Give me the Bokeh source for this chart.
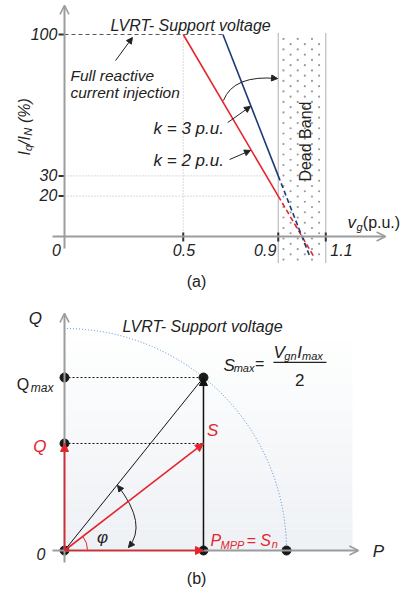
import math
import numpy as np
from bokeh.plotting import figure
from bokeh.layouts import column
from bokeh.models import Range1d, Arrow, NormalHead, OpenHead
from bokeh.core.properties import value
from bokeh.embed import file_html
from bokeh.resources import INLINE

# ---------------- data: panel (a) LVRT reactive current support ----------------
x_ticks = [0.5, 0.9, 1.1]
x_tick_labels = ["0.5", "0.9", "1.1"]
y_ticks = [100, 30, 20]
y_tick_labels = ["100", "30", "20"]
dead_band = [0.9, 1.1]

# k = 2 p.u. curve (solid part, then dashed continuation through the dead band)
k2_vg = [0.5, 0.9]
k2_iq = [100, 20]
k2_dash_vg = [0.9, 1.05]
k2_dash_iq = [20, -10]
# k = 3 p.u. curve
k3_vg = [0.667, 0.9]
k3_iq = [100, 30]
k3_dash_vg = [0.9, 1.035]
k3_dash_iq = [30, -10.5]

# ---------------- data: panel (b) PQ diagram ----------------
S_max = 1.0
P_mpp = 0.626
Q_max = 0.779
Q_inj = 0.482

FONT = value("Liberation Sans")
RED = "#e3262d"
NAVY = "#1b3b78"
AXIS = "#9c9c9c"
INK = "#222222"


def make_fig(h, xr, yr):
    f = figure(width=407, height=h, x_range=Range1d(*xr), y_range=Range1d(*yr),
               x_axis_type=None, y_axis_type=None, toolbar_location=None,
               output_backend="svg", min_border=0, outline_line_color=None,
               background_fill_color="white", border_fill_color="white")
    return f


def txt(f, x, y, s, size=16, color=INK, italic=True, align="left",
        baseline="alphabetic", angle=0.0):
    f.text(x=[x], y=[y], text=[s], text_font=FONT, text_font_size=f"{size}px",
           text_font_style="italic" if italic else "normal", text_color=color,
           text_align=align, text_baseline=baseline, angle=angle)


def arrow(f, x0, y0, x1, y1, color=INK, width=1.0, head=6, body=True):
    f.add_layout(Arrow(end=NormalHead(size=head, fill_color=color, line_color=color),
                       x_start=x0, y_start=y0, x_end=x1, y_end=y1,
                       line_color=color, line_width=width,
                       line_alpha=1.0 if body else 0.0))


def axis_arrow(f, x0, y0, x1, y1):
    f.add_layout(Arrow(end=OpenHead(size=9, line_color=AXIS, line_width=1.6),
                       x_start=x0, y_start=y0, x_end=x1, y_end=y1,
                       line_color=AXIS, line_width=2))


def curve_arrow(f, p0, c, p1, heads=("end",), color=INK):
    # quadratic bezier with arrow heads along its tangents
    f.quadratic(x0=[p0[0]], y0=[p0[1]], x1=[p1[0]], y1=[p1[1]], cx=[c[0]], cy=[c[1]],
                line_color=color, line_width=1)
    if "end" in heads:
        sx = p1[0] + 0.04 * (c[0] - p1[0])
        sy = p1[1] + 0.04 * (c[1] - p1[1])
        arrow(f, sx, sy, p1[0], p1[1], color=color, head=6, body=False)
    if "start" in heads:
        sx = p0[0] + 0.04 * (c[0] - p0[0])
        sy = p0[1] + 0.04 * (c[1] - p0[1])
        arrow(f, sx, sy, p0[0], p0[1], color=color, head=6, body=False)


# ============================ panel (a) ============================
pa = make_fig(298, (-0.2695, 1.4442), (-30.69, 116.83))

# dead band: staggered dot texture with dotted borders
band_bottom, band_top = -12.9, 100.5
rows = np.arange(band_bottom + 1.5, band_top - 1.0, 2.6)
dx, dy = [], []
for r, yv in enumerate(rows):
    shift = 0.0 if r % 2 == 0 else 0.03
    cols = np.arange(dead_band[0] + 0.022 + shift, dead_band[1] - 0.01, 0.06)
    dx.extend(cols)
    dy.extend([yv] * len(cols))
pa.scatter(x=dx, y=dy, size=2.2, color="#9a9a9a", line_color=None)
for xb in dead_band:
    pa.line([xb, xb], [band_bottom, band_top], line_color="#7a7a7a", line_width=1.2,
            line_dash="1 1")

# guide lines
pa.line([0, k3_vg[0]], [100, 100], line_color="#555555", line_width=1, line_dash="4 3")
pa.line([0.5, 0.5], [0, 100], line_color="#b5b5b5", line_width=1, line_dash="1 2")
for yv in (30, 20):
    pa.line([0, 0.9], [yv, yv], line_color="#b5b5b5", line_width=1, line_dash="1 2")

# axes
axis_arrow(pa, -0.0505, 0, 1.352, 0)
axis_arrow(pa, 0, -5.9, 0, 114.4)
for yv in y_ticks:
    pa.line([-0.025, 0], [yv, yv], line_color="#333333", line_width=2)
for xv in x_ticks:
    pa.line([xv, xv], [2.0, -2.5], line_color="#333333", line_width=2)

# characteristic lines
pa.line(k2_vg, k2_iq, line_color=RED, line_width=1.6)
pa.line(k2_dash_vg, k2_dash_iq, line_color=RED, line_width=1.6, line_dash="5 3")
pa.line(k3_vg, k3_iq, line_color=NAVY, line_width=1.6)
pa.line(k3_dash_vg, k3_dash_iq, line_color=NAVY, line_width=1.6, line_dash="5 3")

# tick labels
for yv, s in zip(y_ticks, y_tick_labels):
    txt(pa, -0.03, yv + 0.4, s, align="right", baseline="middle")
txt(pa, -0.034, -6.6, "0", align="center", baseline="middle")
for xv, s, xc in zip(x_ticks, x_tick_labels, [0.503, 0.845, 1.166]):
    txt(pa, xc, -6.6, s, align="center", baseline="middle")

# axis titles
txt(pa, 1.192, 6.9, "v", size=17)
txt(pa, 1.229, 4.6, "g", size=11)
txt(pa, 1.256, 6.9, "(p.u.)", size=16, italic=False)
yl = -0.168
txt(pa, yl, 40.1, "I", angle=math.pi / 2)
txt(pa, yl + 0.013, 42.3, "q", size=11, angle=math.pi / 2)
txt(pa, yl, 45.3, "/I", angle=math.pi / 2)
txt(pa, yl + 0.013, 49.9, "N", size=11, angle=math.pi / 2)
txt(pa, yl, 56.2, "(%)", angle=math.pi / 2)

# annotations
txt(pa, 0.194, 104.5, "LVRT- Support voltage")
txt(pa, 0.025, 79.7, "Full reactive", size=15.5)
txt(pa, 0.025, 71.3, "current injection", size=15.5)
arrow(pa, 0.215, 87.1, 0.286, 98.5, head=6)
txt(pa, 0.375, 53.5, "k = 3 p.u.", size=17, baseline="middle")
txt(pa, 0.375, 37.6, "k = 2 p.u.", size=17, baseline="middle")
arrow(pa, 0.687, 56.4, 0.783, 64.4, head=6)
arrow(pa, 0.695, 38.1, 0.783, 42.6, head=6)
curve_arrow(pa, (0.669, 67.3), (0.712, 80.2), (0.897, 78.2))
txt(pa, 1.015, 47, "Dead Band", size=16, italic=False, align="center",
    baseline="middle", angle=math.pi / 2)
txt(pa, 0.556, -22.3, "(a)", size=16, italic=False, align="center", baseline="middle")

# ============================ panel (b) ============================
pb = make_fig(297, (-0.2883, 1.545), (-0.2027, 1.135))

# soft vertical gradient behind the diagram
n_band = 30
top_q, bot_q = 0.982, 0.0
for i in range(n_band):
    t = i / (n_band - 1)
    c0 = (0xee, 0xf1, 0xf5)
    c1 = (0xff, 0xff, 0xff)
    col = "#%02x%02x%02x" % tuple(int(a + (b - a) * t) for a, b in zip(c0, c1))
    b0 = bot_q + (top_q - bot_q) * i / n_band
    b1 = bot_q + (top_q - bot_q) * (i + 1) / n_band
    pb.quad(left=[0], right=[1.297], bottom=[b0], top=[b1], fill_color=col, line_color=None)

# capability circle
pb.arc(x=[0], y=[0], radius=S_max, start_angle=0, end_angle=math.pi / 2,
       line_color="#4a8ad4", line_width=1, line_dash="1 2")

# axes
axis_arrow(pb, -0.054, 0, 1.324, 0)
axis_arrow(pb, 0, -0.054, 0, 1.068)

# projections
pb.line([0, P_mpp], [Q_max, Q_max], line_color="#111111", line_width=1, line_dash="2 2")
pb.line([0, P_mpp], [Q_inj, Q_inj], line_color="#111111", line_width=1, line_dash="2 2")

# vectors
pb.line([0, P_mpp], [0, Q_max], line_color="#111111", line_width=1)
arrow(pb, P_mpp, 0, P_mpp, Q_max, color="#111111", width=1.5, head=8)
arrow(pb, 0, 0, P_mpp, 0, color=RED, width=1.6, head=8)
arrow(pb, 0, 0, 0, Q_inj, color=RED, width=1.6, head=8)
arrow(pb, 0, 0, P_mpp, Q_inj, color=RED, width=1.6, head=8)

# angles
phi = math.atan2(Q_inj, P_mpp)
pb.arc(x=[0], y=[0], radius=0.104, start_angle=0, end_angle=phi, line_color=RED, line_width=1)
curve_arrow(pb, (0.239, 0.293), (0.376, 0.117), (0.288, 0.0135), heads=("start", "end"))

# points
pb.scatter(x=[0, 0, 0, P_mpp, P_mpp, S_max], y=[0, Q_inj, Q_max, Q_max, 0, 0],
           size=9, color="#1a1a1a")

# labels
txt(pb, -0.131, 1.045, "Q", size=17, align="center", baseline="middle")
txt(pb, 0.261, 1.009, "LVRT- Support voltage")
txt(pb, -0.215, 0.748, "Q", size=16, italic=False)
txt(pb, -0.152, 0.734, "max", size=12)
txt(pb, -0.081, 0.468, "Q", size=17, color=RED, align="right", baseline="middle")
txt(pb, -0.106, -0.018, "0", align="center", baseline="middle")
txt(pb, 0.171, 0.059, "\u03c6", size=17, align="center", baseline="middle")
txt(pb, 1.414, -0.005, "P", size=17, align="center", baseline="middle")
txt(pb, 0.667, 0.541, "S", size=17, color=RED, align="center", baseline="middle")
txt(pb, 0.658, 0.045, "P", color=RED)
txt(pb, 0.703, 0.027, "MPP", size=11, color=RED)
txt(pb, 0.820, 0.045, "= S", color=RED)
txt(pb, 0.933, 0.0315, "n", size=11, color=RED)
txt(pb, 0.595, -0.126, "(b)", size=16, italic=False, align="center", baseline="middle")

# S_max formula
txt(pb, 0.716, 0.833, "S", size=17)
txt(pb, 0.762, 0.820, "max", size=11)
txt(pb, 0.858, 0.842, "=", size=16, italic=False)
pb.line([0.941, 1.180], [0.847, 0.847], line_color=INK, line_width=1.2)
txt(pb, 0.941, 0.892, "V", size=17)
txt(pb, 0.990, 0.878, "gn", size=11)
txt(pb, 1.048, 0.892, "I", size=17)
txt(pb, 1.070, 0.878, "max", size=11)
txt(pb, 1.059, 0.766, "2", size=17, italic=False, align="center")

layout = column(pa, pb, spacing=0)
open("out.html", "w").write(file_html(layout, INLINE))
